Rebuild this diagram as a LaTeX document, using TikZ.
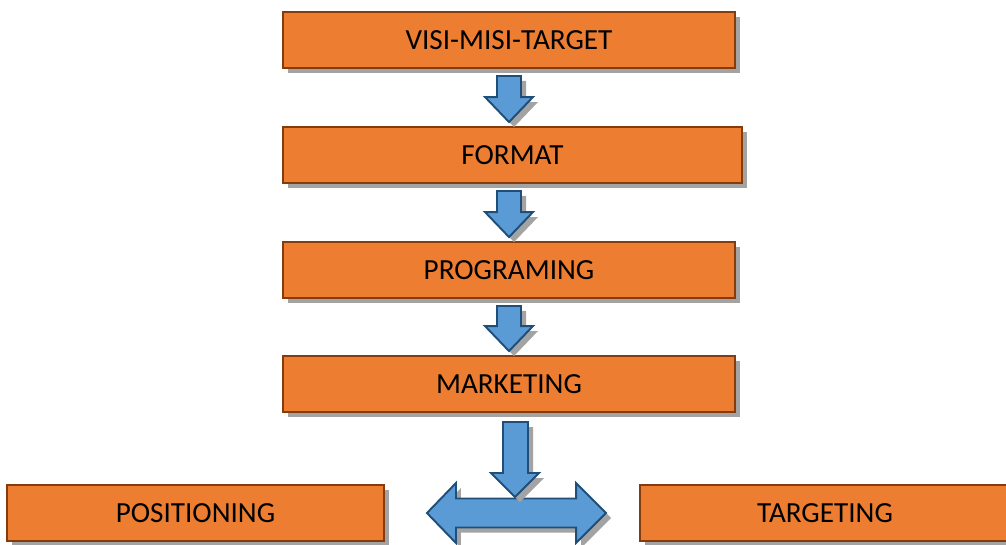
\documentclass[tikz,border=0pt]{standalone}
\usepackage{fontspec}
\setmainfont{Carlito}
\usetikzlibrary{shadows}
\definecolor{boxfill}{HTML}{ED7D31}
\definecolor{boxline}{HTML}{843C0C}
\definecolor{arrowfill}{HTML}{5B9BD5}
\definecolor{arrowline}{HTML}{1F4E79}
\definecolor{shade}{HTML}{A3A3A3}

\begin{document}
\begin{tikzpicture}[
  stage/.style={draw=boxline,line width=1.1pt,fill=boxfill,minimum width=9.04cm,minimum height=1.12cm,inner sep=0pt,font=\fontsize{16.6}{19}\selectfont,drop shadow={shadow xshift=0.1cm,shadow yshift=-0.1cm,fill=shade,opacity=1}},
  flow/.style={draw=arrowline,line width=1.1pt,fill=arrowfill,line join=miter,drop shadow={shadow xshift=0.1cm,shadow yshift=-0.1cm,fill=shade,opacity=1}}]
\useasboundingbox (0,0) rectangle (20.12,-10.88);
\node[stage] (b1) at (10.18,-0.80) {VISI-MISI-TARGET};
\node[stage,minimum width=9.18cm] (b2) at (10.25,-3.10) {FORMAT};
\node[stage] (b3) at (10.18,-5.40) {PROGRAMING};
\node[stage] (b4) at (10.18,-7.68) {MARKETING};
\node[stage,minimum width=7.54cm] (pos) at (3.91,-10.26) {POSITIONING};
\node[stage,minimum width=7.40cm] (targ) at (16.50,-10.26) {TARGETING};
% tips of the block arrows
\coordinate (t1) at (b1.south |- b2.north);
\coordinate (s2) at (b3.north |- b2.south);
\coordinate (t4) at (b4.south |- pos.east);
\draw[flow] ([shift={(-0.24,-0.14)}]b1.south) -- ([shift={(-0.24,0.58)}]t1) -- ([shift={(-0.48,0.58)}]t1) -- ([yshift=0.08cm]t1) -- ([shift={(0.48,0.58)}]t1) -- ([shift={(0.24,0.58)}]t1) -- ([shift={(0.24,-0.14)}]b1.south) -- cycle;
\draw[flow] ([shift={(-0.24,-0.14)}]s2) -- ([shift={(-0.24,0.58)}]b3.north) -- ([shift={(-0.48,0.58)}]b3.north) -- ([yshift=0.08cm]b3.north) -- ([shift={(0.48,0.58)}]b3.north) -- ([shift={(0.24,0.58)}]b3.north) -- ([shift={(0.24,-0.14)}]s2) -- cycle;
\draw[flow] ([shift={(-0.24,-0.14)}]b3.south) -- ([shift={(-0.24,0.58)}]b4.north) -- ([shift={(-0.48,0.58)}]b4.north) -- ([yshift=0.08cm]b4.north) -- ([shift={(0.48,0.58)}]b4.north) -- ([shift={(0.24,0.58)}]b4.north) -- ([shift={(0.24,-0.14)}]b3.south) -- cycle;
% two-way arrow between the bottom boxes
\draw[flow] ([xshift=0.84cm]pos.east) -- ([shift={(1.42,0.60)}]pos.east) -- ([shift={(1.42,0.29)}]pos.east) -- ([shift={(-1.26,0.29)}]targ.west) -- ([shift={(-1.26,0.60)}]targ.west) -- ([xshift=-0.66cm]targ.west) -- ([shift={(-1.26,-0.60)}]targ.west) -- ([shift={(-1.26,-0.29)}]targ.west) -- ([shift={(1.42,-0.29)}]pos.east) -- ([shift={(1.42,-0.60)}]pos.east) -- cycle;
\draw[flow] ([shift={(-0.12,1.82)}]t4) -- ([shift={(-0.12,0.80)}]t4) -- ([shift={(-0.36,0.80)}]t4) -- ([shift={(0.12,0.32)}]t4) -- ([shift={(0.60,0.80)}]t4) -- ([shift={(0.38,0.80)}]t4) -- ([shift={(0.38,1.82)}]t4) -- cycle;
\end{tikzpicture}
\end{document}
